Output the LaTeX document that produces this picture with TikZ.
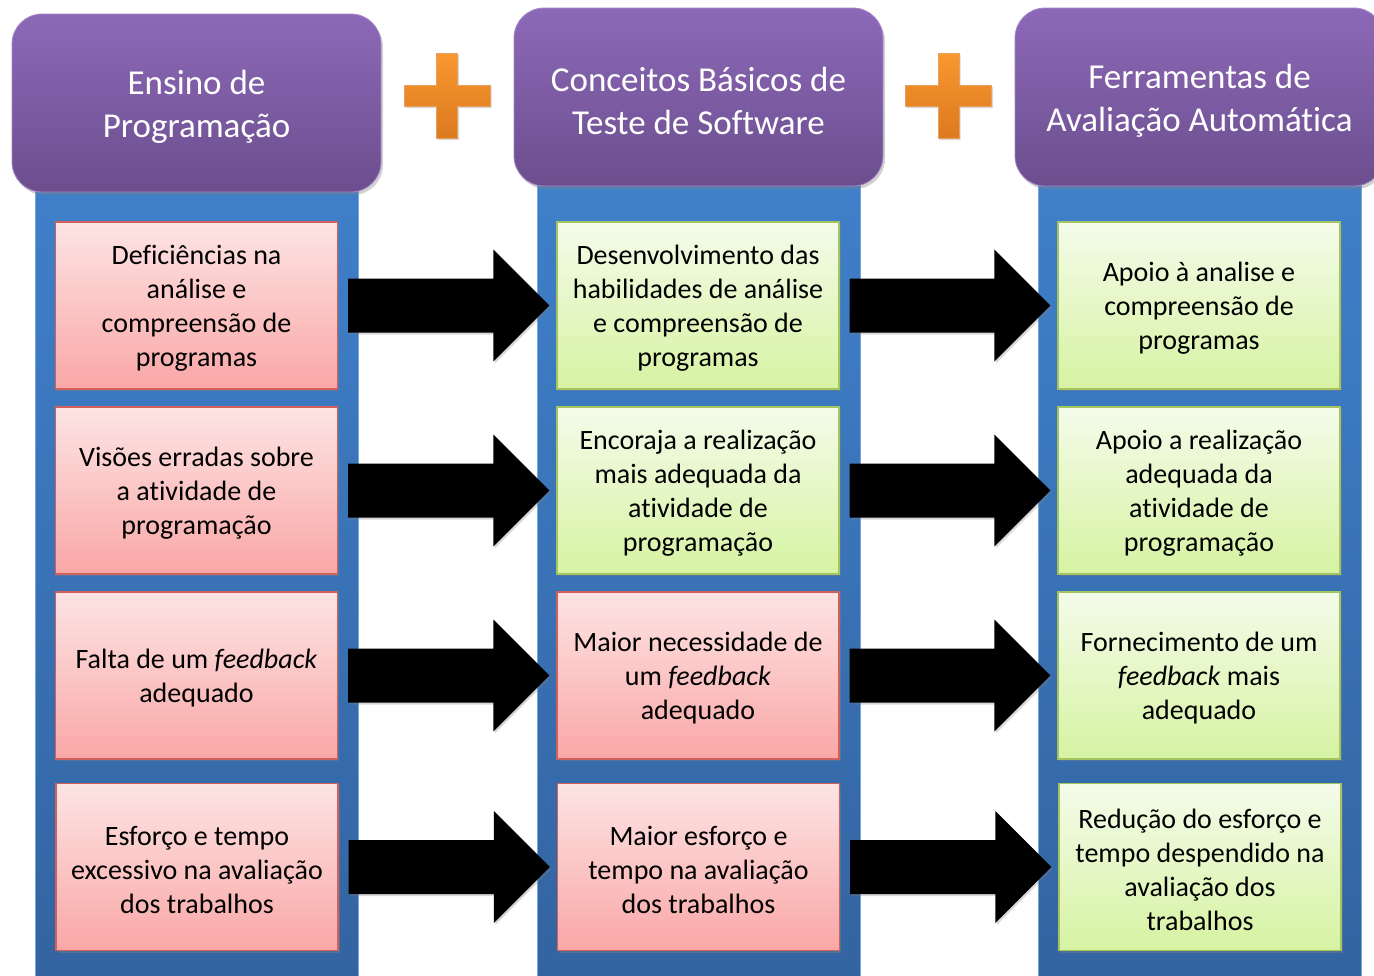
\documentclass[tikz,border=0pt]{standalone}
\usepackage{fontspec}
\setmainfont{Carlito}[Ligatures=CommonOff]
\usetikzlibrary{shadows,calc}
\definecolor{panelTop}{HTML}{3F80CA}
\definecolor{panelBot}{HTML}{3363A0}
\definecolor{hdrTop}{HTML}{8C69B8}
\definecolor{hdrBot}{HTML}{6C4E8E}
\definecolor{pinkTop}{HTML}{FDE4E4}
\definecolor{pinkBot}{HTML}{F9A7A6}
\definecolor{pinkLine}{HTML}{D0605C}
\definecolor{greenTop}{HTML}{F4FBEA}
\definecolor{greenBot}{HTML}{D6F3A2}
\definecolor{greenLine}{HTML}{A3C45E}
\definecolor{plusTop}{HTML}{F8982F}
\definecolor{plusBot}{HTML}{DC7A1F}
\definecolor{plusLine}{HTML}{E8A060}
\tikzset{
  panel/.style={top color=panelTop, bottom color=panelBot, draw=panelTop!70!white, line width=0.8pt,
    minimum width=323pt, minimum height=820pt, inner sep=0pt, anchor=north},
  header/.style={top color=hdrTop, bottom color=hdrBot, draw=hdrTop!80!white, line width=0.8pt,
    rounded corners=30pt, minimum width=369pt, minimum height=178pt, inner sep=0pt,
    drop shadow={shadow xshift=2pt, shadow yshift=-3pt, opacity=0.35}},
  headertext/.style={text=white, align=center, inner sep=0pt, font=\fontsize{35}{43}\selectfont},
  cell/.style={minimum width=282pt, minimum height=167pt, inner sep=0pt, line width=1.2pt,
    drop shadow={shadow xshift=1.5pt, shadow yshift=-2pt, opacity=0.4}},
  celltext/.style={align=center, inner sep=0pt, font=\fontsize{28}{34}\selectfont},
  pinkcell/.style={cell, top color=pinkTop, bottom color=pinkBot, draw=pinkLine},
  greencell/.style={cell, top color=greenTop, bottom color=greenBot, draw=greenLine},
  fatarrow/.style={fill=black, drop shadow={shadow xshift=1.5pt, shadow yshift=-2pt, opacity=0.3}},
  plussign/.style={top color=plusTop, bottom color=plusBot, draw=plusLine, line width=0.8pt,
    drop shadow={shadow xshift=1.5pt, shadow yshift=-2pt, opacity=0.3}}
}
\newcommand\mycell[4]{%
  \node[#1] (#2) at #3 {};
  \node[celltext] (#2t) at ($(#2.center)+(0,3)$) {#4};}
\newcommand\myheader[3]{%
  \node[header] (#1) at #2 {};
  \node[headertext] (#1t) at ($(#1.center)+(0,3.5)$) {#3};}
\begin{document}
\begin{tikzpicture}[x=1pt,y=-1pt]
\useasboundingbox (0,0) rectangle (1374,975);
\clip (0,0) rectangle (1374,975);
\fill[white] (0,0) rectangle (1374,975);

% panels
\node[panel] (p1) at (196.5,178) {};
\node[panel] (p2) at (698.5,178) {};
\node[panel] (p3) at (1200,178) {};

% headers
\myheader{h1}{(196.5,103)}{Ensino de\\Programação}
\myheader{h2}{(698.5,97)}{Conceitos Básicos de\\Teste de Software}
\myheader{h3}{(1199.5,97)}{Ferramentas de\\Avaliação Automática}

% plus signs
\coordinate (pl1) at (447,95.5);
\coordinate (pl2) at (948.5,95.5);
\foreach \c in {pl1,pl2}{
  \path[plussign] ($(\c)+(-10.5,-42.5)$) -- ($(\c)+(10.5,-42.5)$) -- ($(\c)+(10.5,-10.5)$)
    -- ($(\c)+(43,-10.5)$) -- ($(\c)+(43,10.5)$) -- ($(\c)+(10.5,10.5)$)
    -- ($(\c)+(10.5,42.5)$) -- ($(\c)+(-10.5,42.5)$) -- ($(\c)+(-10.5,10.5)$)
    -- ($(\c)+(-43,10.5)$) -- ($(\c)+(-43,-10.5)$) -- ($(\c)+(-10.5,-10.5)$) -- cycle;
}

% cells column 1
\mycell{pinkcell}{a1}{(196.5,305.5)}{Deficiências na\\análise e\\compreensão de\\programas}
\mycell{pinkcell}{a2}{(196.5,490.5)}{Visões erradas sobre\\a atividade de\\programação}
\mycell{pinkcell}{a3}{(196.5,675.5)}{Falta de um \textit{feedback}\\adequado}
\mycell{pinkcell}{a4}{(197,867)}{Esforço e tempo\\excessivo na avaliação\\dos trabalhos}
% column 2
\mycell{greencell}{b1}{(698,305.5)}{Desenvolvimento das\\habilidades de análise\\e compreensão de\\programas}
\mycell{greencell}{b2}{(698,490.5)}{Encoraja a realização\\mais adequada da\\atividade de\\programação}
\mycell{pinkcell}{b3}{(698,675.5)}{Maior necessidade de\\um \textit{feedback}\\adequado}
\mycell{pinkcell}{b4}{(698.5,867)}{Maior esforço e\\tempo na avaliação\\dos trabalhos}
% column 3
\mycell{greencell}{c1}{(1199,305.5)}{Apoio à analise e\\compreensão de\\programas}
\mycell{greencell}{c2}{(1199,490.5)}{Apoio a realização\\adequada da\\atividade de\\programação}
\mycell{greencell}{c3}{(1199,675.5)}{Fornecimento de um\\\textit{feedback} mais\\adequado}
\mycell{greencell}{c4}{(1200,867)}{Redução do esforço e\\tempo despendido na\\avaliação dos\\trabalhos}

% fat arrows
\foreach \s/\t in {a1/b1,a2/b2,a3/b3,a4/b4,b1/c1,b2/c2,b3/c3,b4/c4}{
  \coordinate (S) at ($(\s.east)+(10,0)$);
  \coordinate (T) at ($(\t.west)+(-7,0)$);
  \path[fatarrow] ($(S)+(0,-27)$) -- ($(T)+(-56,-27)$) -- ($(T)+(-56,-56)$)
    -- (T) -- ($(T)+(-56,56)$) -- ($(T)+(-56,27)$) -- ($(S)+(0,27)$) -- cycle;
}
\end{tikzpicture}
\end{document}
